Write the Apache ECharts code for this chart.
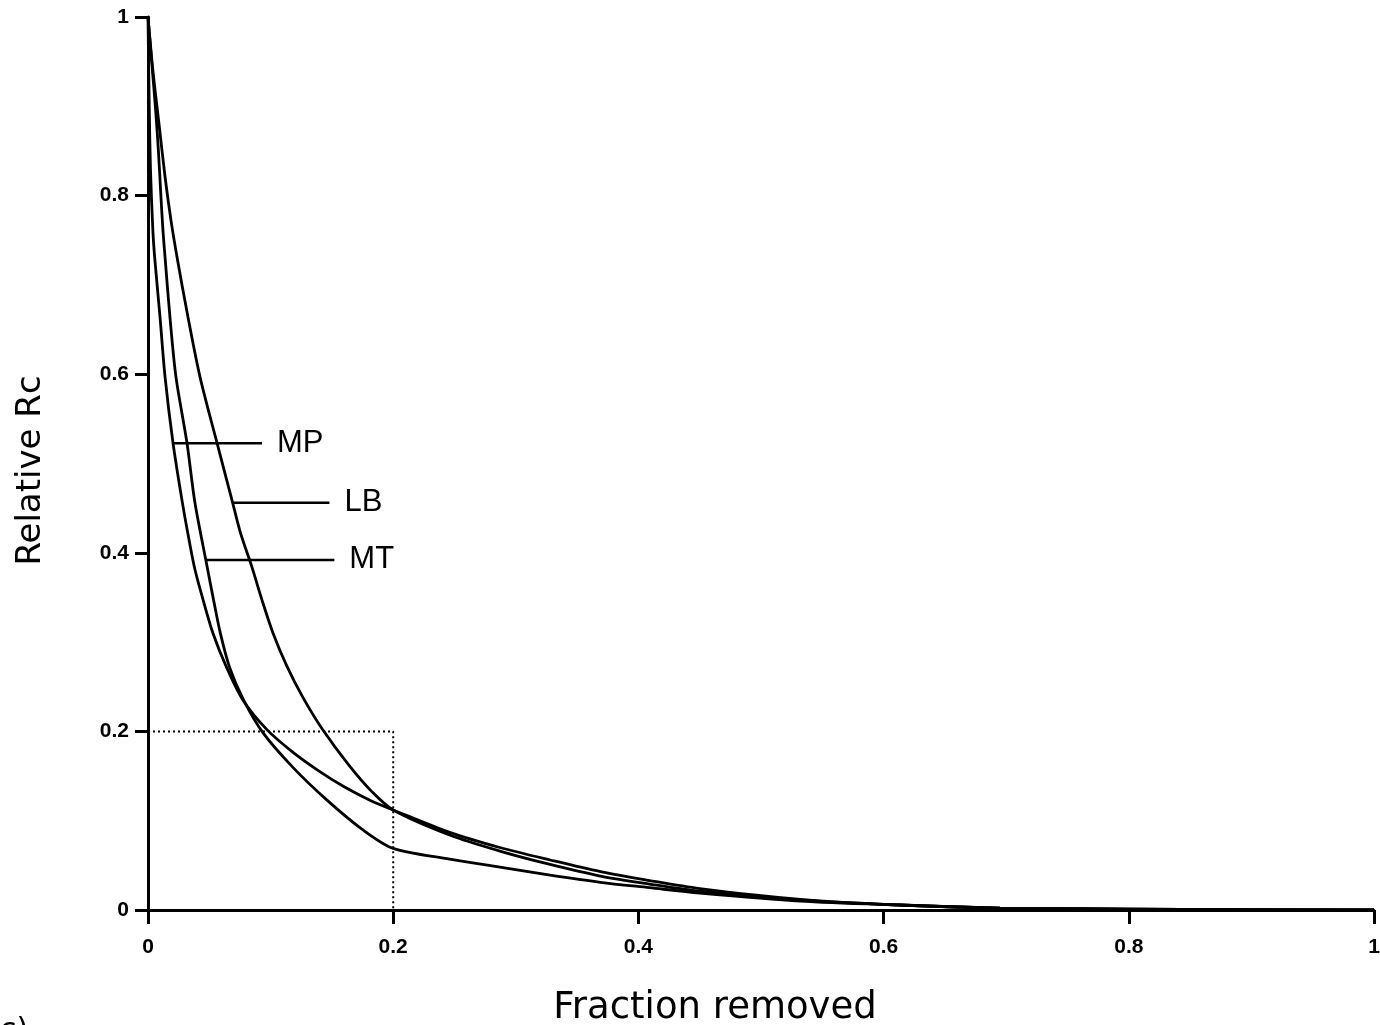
<!DOCTYPE html>
<html>
<head>
<meta charset="utf-8">
<script src="https://cdn.jsdelivr.net/npm/echarts@6/dist/echarts.min.js"></script>
<style>
html,body{margin:0;padding:0;background:#fff;}
#chart{width:1380px;height:1025px;}
</style>
</head>
<body>
<div id="chart"></div>
<script>
// ---- data ----
const xTickLabels = ['0', '0.2', '0.4', '0.6', '0.8', '1'];
const yTickLabels = ['0', '0.2', '0.4', '0.6', '0.8', '1'];

const mpData = [
  [0,1],[0.001,0.90],[0.002,0.83],[0.004,0.76],[0.0055,0.73],[0.0098,0.664],[0.0139,0.597],
  [0.0204,0.523],[0.0277,0.459],[0.0326,0.421],[0.038,0.383],[0.045,0.347],[0.053,0.310],
  [0.064,0.272],[0.0775,0.235],[0.097,0.202],[0.117,0.178],[0.138,0.157],[0.16,0.138],
  [0.181,0.123],[0.2,0.112],[0.246,0.087],[0.287,0.070],[0.328,0.056],[0.369,0.043],
  [0.409,0.033],[0.45,0.024],[0.532,0.012],[0.613,0.0056],[0.695,0.0022],[0.8,0.001],[1,0]
];
const lbData = [
  [0,1],[0.004,0.94],[0.009,0.88],[0.014,0.82],[0.019,0.77],[0.0237,0.731],
  [0.0326,0.664],[0.0424,0.597],[0.0563,0.523],[0.0685,0.459],[0.0755,0.422],[0.0848,0.384],
  [0.093,0.347],[0.102,0.310],[0.113,0.274],[0.126,0.239],[0.142,0.203],[0.164,0.162],
  [0.183,0.132],[0.2,0.112],[0.246,0.084],[0.287,0.066],[0.328,0.051],[0.369,0.038],
  [0.409,0.029],[0.45,0.021],[0.532,0.011],[0.613,0.0056],[0.695,0.0022],[0.8,0.001],[1,0]
];
const mtData = [
  [0,1],[0.003,0.95],[0.006,0.90],[0.0085,0.85],[0.0105,0.80],[0.0122,0.761],[0.0139,0.731],
  [0.0179,0.664],[0.0228,0.597],[0.0318,0.523],[0.0383,0.456],[0.048,0.386],[0.0535,0.347],
  [0.059,0.310],[0.0665,0.272],[0.078,0.235],[0.094,0.198],[0.118,0.160],[0.146,0.123],
  [0.175,0.090],[0.2,0.069],[0.246,0.057],[0.287,0.048],[0.328,0.039],[0.369,0.031],
  [0.409,0.025],[0.45,0.019],[0.532,0.010],[0.613,0.0056],[0.695,0.0022],[0.8,0.001],[1,0]
];
// label leader lines: [name, xStart, xEnd, y]
const leaderMP = ['MP', 0.0204, 0.093, 0.5226];
const leaderLB = ['LB', 0.0685, 0.148, 0.4561];
const leaderMT = ['MT', 0.048, 0.152, 0.392];
// dotted reference box at 0.2 / 0.2
const refBox = [[0,0.2],[0.2,0.2],[0.2,0]];

const xName = 'Fraction removed';
const yName = 'Relative Rc';

// ---- chart ----
const chart = echarts.init(document.getElementById('chart'), null, {renderer:'canvas'});

function curve(name, data) {
  return {
    name: name, type: 'line', data: data, smooth: 0.3, symbol: 'none',
    lineStyle: {color: '#000', width: 2.8}, z: 3, animation: false
  };
}
function leader(l) {
  return {
    name: l[0], type: 'line', symbol: 'none', animation: false,
    lineStyle: {color: '#000', width: 2.5},
    data: [[l[1], l[3]], [l[2], l[3]]],
    endLabel: {
      show: true, distance: 15, formatter: l[0],
      fontFamily: 'Liberation Sans, Arial, sans-serif', fontSize: 31, color: '#000'
    }
  };
}
const tickFmt = (labels) => (v) => labels[Math.round(v / 0.2)];
const tickFont = 'Liberation Sans Narrow, Liberation Sans, Arial, sans-serif';

const option = {
  backgroundColor: '#fff',
  animation: false,
  grid: {left: 148, right: 6, top: 17, bottom: 115, containLabel: false, outerBoundsMode: 'none'},
  xAxis: {
    type: 'value', min: 0, max: 1, interval: 0.2,
    name: xName, nameLocation: 'middle', nameGap: 80,
    nameTextStyle: {fontFamily: 'DejaVu Sans', fontSize: 37, color: '#000', padding: [0, 92, 0, 0]},
    axisLine: {lineStyle: {color: '#000', width: 3}},
    axisTick: {length: 14, lineStyle: {color: '#000', width: 3}},
    axisLabel: {margin: 27, formatter: tickFmt(xTickLabels),
      fontFamily: tickFont, fontWeight: 'bold', fontSize: 21, color: '#000'},
    splitLine: {show: false}
  },
  yAxis: {
    type: 'value', min: 0, max: 1, interval: 0.2,
    name: yName, nameLocation: 'middle', nameGap: 100, nameRotate: 90,
    nameTextStyle: {fontFamily: 'DejaVu Sans', fontSize: 34, color: '#000', padding: [0, 14, 0, 0]},
    axisLine: {lineStyle: {color: '#000', width: 3}},
    axisTick: {length: 13, lineStyle: {color: '#000', width: 3}},
    axisLabel: {margin: 19, formatter: tickFmt(yTickLabels),
      fontFamily: tickFont, fontWeight: 'bold', fontSize: 21, color: '#000'},
    splitLine: {show: false}
  },
  graphic: [
    {type: 'text', left: 0, top: 1016, style: {text: 'c)', font: '30px DejaVu Sans', fill: '#000'}}
  ],
  series: [
    curve('MP curve', mpData),
    curve('LB curve', lbData),
    curve('MT curve', mtData),
    leader(leaderMP),
    leader(leaderLB),
    leader(leaderMT),
    {
      name: 'reference', type: 'line', data: refBox, symbol: 'none', animation: false,
      lineStyle: {color: '#000', width: 2, type: [2, 3]}, z: 1
    }
  ]
};
chart.setOption(option);
</script>
</body>
</html>
